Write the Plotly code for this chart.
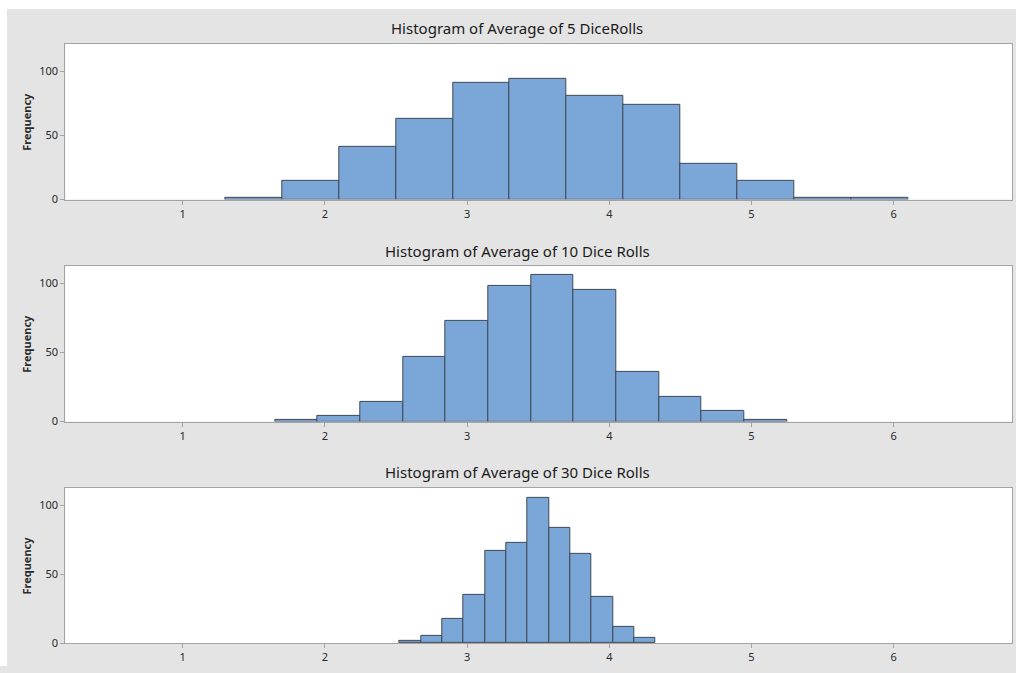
import plotly.graph_objects as go

# ---- data ----
titles = ["Histogram of Average of 5 DiceRolls",
          "Histogram of Average of 10 Dice Rolls",
          "Histogram of Average of 30 Dice Rolls"]

centers_5 = [1.5, 1.9, 2.3, 2.7, 3.1, 3.5, 3.9, 4.3, 4.7, 5.1, 5.5, 5.9]
counts_5 = [1, 15, 41, 63, 91, 94, 81, 74, 28, 15, 1, 1]
width_5 = 0.4

centers_10 = [1.8, 2.1, 2.4, 2.7, 3.0, 3.3, 3.6, 3.9, 4.2, 4.5, 4.8, 5.1]
counts_10 = [1, 4, 14, 47, 73, 98, 106, 95, 36, 18, 8, 1]
width_10 = 0.3

centers_30 = [2.6, 2.75, 2.9, 3.05, 3.2, 3.35, 3.5, 3.65, 3.8, 3.95, 4.1, 4.25]
counts_30 = [2, 5, 18, 35, 67, 73, 106, 84, 65, 34, 12, 4]
width_30 = 0.15

x_ticks = [1, 2, 3, 4, 5, 6]
y_ticks = [0, 50, 100]
y_label = "Frequency"

# ---- layout geometry ----
W, H = 1016, 673
FONT = "Noto Sans"
BG = "#e4e4e4"
BAR = "#7ba6d8"
EDGE = "#3f4854"
AXC = "#a3a3a3"

def px_x(v):
    return v / W

def py(v):
    return 1 - v / H

panels = [
    dict(c=centers_5, n=counts_5, w=width_5, top=44.3, bot=201.7, ymax=121.6, ty=28),
    dict(c=centers_10, n=counts_10, w=width_10, top=268.7, bot=426.0, ymax=112.4, ty=254),
    dict(c=centers_30, n=counts_30, w=width_30, top=493.0, bot=650.0, ymax=112.9, ty=477),
]

fig = go.Figure()
annotations = []
for i, p in enumerate(panels):
    k = "" if i == 0 else str(i + 1)
    fig.add_trace(go.Bar(
        x=p["c"], y=p["n"], width=p["w"],
        marker=dict(color=BAR, line=dict(color=EDGE, width=1)),
        xaxis="x" + k, yaxis="y" + k, showlegend=False, hoverinfo="x+y",
    ))
    fig.update_layout(**{
        "xaxis" + k: dict(
            domain=[px_x(65.3), px_x(1012)], range=[0.1744, 6.832],
            anchor="y" + k, tickvals=x_ticks, ticks="outside", ticklen=4,
            tickcolor=AXC, showline=True, linecolor=AXC, linewidth=1, mirror=True,
            showgrid=False, zeroline=False, fixedrange=True,
            tickfont=dict(family=FONT, size=11, color="#2a2a2a"),
        ),
        "yaxis" + k: dict(
            domain=[py(p["bot"]), py(p["top"])], range=[0, p["ymax"]],
            anchor="x" + k, tickvals=y_ticks, ticks="outside", ticklen=4,
            tickcolor=AXC, showline=True, linecolor=AXC, linewidth=1, mirror=True,
            showgrid=False, zeroline=False, fixedrange=True,
            tickfont=dict(family=FONT, size=11, color="#2a2a2a"),
        ),
    })
    annotations.append(dict(
        text=titles[i], x=px_x(517), y=py(p["ty"]), xref="paper", yref="paper",
        xanchor="center", yanchor="middle", showarrow=False,
        font=dict(family=FONT, size=15, color="#1a1a1a"),
    ))
    annotations.append(dict(
        text="<b>" + y_label + "</b>", x=px_x(27), y=py((p["top"] + p["bot"]) / 2),
        xref="paper", yref="paper", xanchor="center", yanchor="middle",
        textangle=-90, showarrow=False,
        font=dict(family=FONT, size=11, color="#2a2a2a"),
    ))

# white frame strips at the top and left, as in the reference screenshot
shapes = [
    dict(type="rect", xref="paper", yref="paper", x0=0, x1=1, y0=py(9), y1=1,
         fillcolor="white", line=dict(width=0), layer="below"),
    dict(type="rect", xref="paper", yref="paper", x0=0, x1=px_x(7), y0=0, y1=1,
         fillcolor="white", line=dict(width=0), layer="below"),
]

fig.update_layout(
    width=W, height=H, margin=dict(l=0, r=0, t=0, b=0),
    paper_bgcolor=BG, plot_bgcolor="white", bargap=0,
    annotations=annotations, shapes=shapes,
    font=dict(family=FONT),
)

fig.write_html(
    "out.html",
    config={"displayModeBar": False},
    post_script="document.body.style.margin='0';document.body.style.overflow='hidden';",
)
